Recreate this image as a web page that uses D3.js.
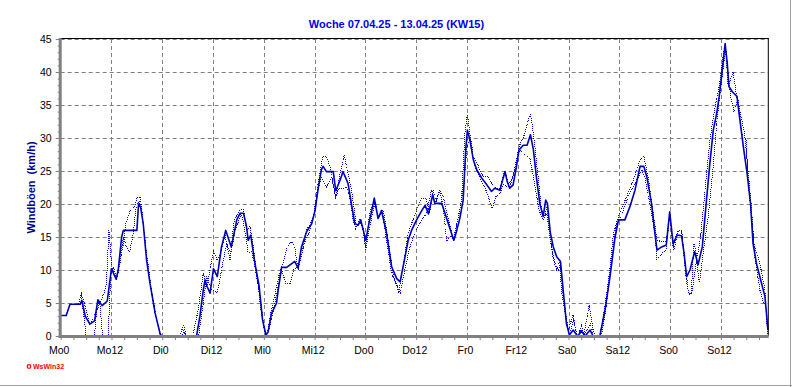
<!DOCTYPE html>
<meta charset="utf-8">
<head>
<script src="https://d3js.org/d3.v7.min.js"></script>
<style>
  body { margin: 0; background: #ffffff; }
  svg { display: block; font-family: "Liberation Sans", Arial, sans-serif; }
</style>
</head>
<body>
<svg id="chart" width="792" height="387"></svg>
<script>
// tick labels
var xLabels = ["Mo0","Mo12","Di0","Di12","Mi0","Mi12","Do0","Do12","Fr0","Fr12","Sa0","Sa12","So0","So12"];
var xTickHours = [0,12,24,36,48,60,72,84,96,108,120,132,144,156];
var yTicks = [0,5,10,15,20,25,30,35,40,45];

// wind gusts, [hour since Mo0, km/h] - solid series
var gustMain = [[0,3.1],[1.3,3.1],[2.2,4.8],[4.6,4.8],[5,5.4],[5.8,3],[6.9,1.8],[8,2.3],[8.8,5.5],[9.8,4.6],[11,5.3],[12,10.2],[13.1,8.6],[13.6,10],[14.4,15],[14.8,16],[18,16],[18.4,20],[18.9,19.5],[19.5,17],[20.3,11.5],[21.1,8],[22.3,3.5],[23.5,0.3],[23.9,0],
  [32.1,0],[32.9,3],[33.7,7],[34.1,8.5],[34.6,7.5],[35.3,6.5],[36.1,10.2],[37,9],[38,13.5],[39,16],[40.3,13.5],[40.8,15],[41.6,17.6],[42.4,18.6],[43.2,18.6],[43.9,16.6],[44.3,14.5],[44.9,15.3],[45.9,11],[46.9,7.5],[47.7,2.4],[48.5,0.15],[49,0.6],[49.8,3.4],[51,5],[51.4,7],[52.2,10.4],[53.4,10.4],[55.3,11.3],[56.1,10.3],[56.9,13.5],[58.1,15.8],[59.3,17],[60.1,19],[60.9,22.6],[61.6,25.2],[62,25.7],[62.8,24.9],[64.4,24.9],[65,22],[66,23.6],[66.7,24.9],[67.9,23.1],[68.7,20],[69.5,17],[70.3,16.8],[70.9,17.6],[71.5,16],[72.1,14.5],[72.7,16.6],[73.5,19],[74.1,20.9],[75,17.8],[75.8,19],[77,15.6],[78.2,10.5],[79.4,8.7],[80.2,8.2],[81.3,11.8],[82.1,14.5],[82.9,16],[84.1,17.6],[85.3,19],[86.1,19.8],[86.9,18.5],[87.9,21.4],[88.4,20.1],[90,20.1],[90.8,18.6],[92,16.2],[92.9,14.5],[93.5,15.8],[94.3,17.8],[95.1,20.6],[95.7,28.2],[96.1,31.2],[96.7,29.7],[97.5,26.7],[98.3,25.2],[99.5,23.9],[100.7,22.9],[101.8,21.9],[102.6,22.4],[103.8,22.1],[104.4,23.6],[105,24.9],[105.5,23.4],[106.1,22.4],[106.9,22.9],[107.7,25.7],[108.3,28.2],[109.3,28.9],[110.2,28.9],[111,30.5],[111.7,28.2],[112.4,24.1],[113.2,20.1],[114,18.1],[114.6,20.6],[115,20.1],[115.7,15.6],[116.4,13.5],[117.2,12],[118.1,11.3],[118.8,6.5],[119.5,1.9],[120.2,0.15],[121.1,0.9],[122.1,0],[123.1,0.7],[123.9,0],[125.1,0.9],[125.8,0],[127.4,0],[128.6,3.9],[129.8,9],[131,15],[131.8,17.6],[133.3,17.6],[134.5,19.6],[135.7,22.1],[136.9,25.7],[137.8,25.7],[138.5,24.1],[139.6,20.1],[140.4,15.6],[140.9,13],[142,13.5],[143.1,13.8],[143.9,18.8],[144.7,14],[145.7,15.3],[146.7,15.2],[147.3,12.5],[147.9,9],[148.7,10],[149.8,12.8],[150.6,10.8],[151.6,13.5],[152.6,20.6],[153.4,26.2],[154.2,31.2],[155,33.7],[155.6,36.3],[156.5,41.3],[157,44.3],[157.5,41.3],[157.9,37.8],[158.7,37],[159.8,36.3],[160.5,32.7],[161.3,28.7],[162.2,24.6],[163,20.1],[163.6,14],[164.4,11],[165.6,8],[166.4,6],[166.8,3.2],[167.1,0.9]];

// dotted series 1
var gustDot1 = [[0,3.1],[1.3,3.1],[2.2,4.8],[4.2,4.8],[4.9,6.4],[6,4],[6.9,1.7],[8.9,4.4],[10.2,6.5],[10.8,8],[11.4,16],[12,11],[12.5,9.5],[13.2,8.5],[14,11],[14.8,14],[15.4,17],[16.4,19],[17.4,19.5],[18,21],[18.8,21],[19.2,19],[20,14],[21,8.5],[22.3,3.5],[23.5,0.3],[24,0],[28.2,0],[29,1.7],[29.7,0],[31.2,0],[32.5,4],[33.7,9.5],[34.5,7.5],[36.1,12.8],[37,11.5],[38,13],[38.8,15.3],[40,11.5],[41,17.6],[42.4,19.1],[43.2,19.1],[43.9,16],[44.7,16.6],[45.5,13.5],[46.5,8.5],[47.4,3.5],[48.2,0.5],[48.8,0.3],[49.5,3],[50.5,6],[51.5,9],[52.5,11],[53.5,13.5],[54.5,14.3],[55.3,13.5],[56.1,10],[57.5,14],[58.9,16],[60,19],[60.8,23],[61.9,27.2],[62.8,27.2],[63.6,25.7],[65,21],[66,24.6],[67,27.4],[67.7,25.2],[68.7,22.1],[69.4,19],[69.9,16.6],[70.7,17.3],[71.5,16],[72.1,13],[73,18.6],[74.1,20.6],[75,17.8],[76,18.8],[77,14.5],[78.2,9.5],[79.4,7.7],[79.8,6.5],[80.9,10.5],[82.1,15.6],[82.9,17],[84.4,19.6],[85.3,20.9],[86.3,20.9],[87.2,18.6],[88,22.1],[88.8,20.6],[89.6,22.1],[90.5,19],[91.2,14.3],[92,15.3],[92.8,14.5],[93.5,16.6],[94.7,20.6],[95.5,30.7],[96.1,33.7],[96.7,30.7],[97.5,27.4],[98.7,25.7],[99.8,24.1],[101,24.1],[101.8,23.1],[102.8,22.4],[103.8,22.4],[105,25.2],[105.8,22.9],[106.8,23.9],[107.7,26.7],[108.3,28.7],[109.7,30.7],[110.5,32.7],[111,33.7],[111.7,30.7],[112.8,24.1],[113.6,19.1],[114.4,18.1],[114.8,19.6],[115.6,15],[116.4,11.5],[117.2,10],[118,11.5],[118.3,7],[119.1,3.9],[119.9,0.9],[121.1,3.2],[121.7,0.9],[122.2,0],[123.1,1.7],[123.6,0],[124.9,4.7],[125.8,0.9],[126.2,0],[127.4,0],[128.6,4.4],[129.8,10.5],[130.6,15.6],[131.8,18.1],[133.7,21.1],[135.3,23.6],[136.9,26.7],[137.8,27.2],[138.8,24.1],[140,18.6],[140.9,14.5],[142,14.3],[143.1,14.3],[143.9,18.6],[144.7,13.5],[145.7,15.8],[146.7,16],[147.5,11.5],[148.3,6.5],[149,6.5],[149.6,14],[150.4,12],[151.2,15],[152.4,23.1],[153.4,29.7],[154.6,34.7],[155.6,37.8],[156.7,43.3],[157.1,44.3],[157.7,37.8],[158.9,40],[159.5,37.3],[160,35.3],[160.9,30.7],[161.9,30.2],[162.4,23.6],[163.2,18.1],[163.8,14],[165.2,11],[166.4,7],[166.8,2.4],[167.1,0]];

// dotted series 2
var gustDot2 = [[0,3.1],[1.3,3.1],[2.2,4.8],[4.2,4.8],[4.9,6],[5.5,3],[6,0],[8,0],[8.7,5.5],[9.3,4.5],[9.9,0],[11.2,0],[11.8,9],[12.5,10.5],[13.2,8.5],[14,12],[14.8,15],[15.5,13.5],[16.3,12.8],[17,15],[17.8,19.3],[18.5,20.5],[19.2,19],[19.8,15],[20.6,11],[21.4,7],[22.5,3],[23.6,0],[28.6,0],[29.1,0.8],[29.6,0],[32.6,0],[33.7,5],[34.5,9],[35.7,7],[37,6.5],[38,10],[39.2,14],[40.2,12.5],[41.2,16],[42.7,18.6],[43.8,15],[44.3,12.5],[45.1,13],[46,10],[47,6.5],[47.9,2],[48.5,0],[49.2,1],[50,3],[51.5,8],[52.2,10],[53.2,8],[54.2,8],[55,10],[56.1,10.5],[57.2,13],[58.1,16],[59.7,18],[60.4,21],[61.6,24.1],[62.8,22.6],[64,24.1],[65,21],[65.8,22.4],[66.8,22.4],[67.6,22.6],[68.3,21],[69.1,17.6],[69.7,16.3],[70.7,17.8],[71.5,16.3],[72.1,13.3],[73.5,18.1],[74.3,20.4],[75,17.8],[76.2,19.1],[77.4,14.5],[78.6,9],[80.2,6.5],[81.3,10],[82.5,13.5],[83.7,15.6],[85.3,17.6],[86.5,18.6],[87.6,22.1],[88.4,20.1],[89.6,22.1],[90.4,21.1],[91.6,17.6],[92.8,14.5],[93.2,15.8],[94.3,19.1],[95.3,23.1],[96,28.7],[96.7,29.7],[97.9,25.7],[98.9,24.1],[100.2,22.6],[102,19.3],[102.8,21.1],[103.8,21.6],[104.6,23.1],[105.4,22.6],[106.1,22.6],[107.3,25.2],[108.5,28.2],[109.7,27.4],[110.9,26.9],[112.1,22.6],[113,19.1],[114,17.6],[114.8,18.6],[116,13.5],[116.8,11],[117.6,10],[118.1,11],[118.7,6.5],[119.9,0.9],[120.5,0.9],[121.1,2.4],[122.1,0],[122.9,0.9],[123.7,0],[125.1,1.9],[125.8,0],[127.8,0],[129,4.9],[130.2,11.5],[131.3,17],[132.5,18.3],[134.1,21.1],[135.3,22.6],[136.5,24.1],[137.3,25.2],[138,24.1],[139.2,20.1],[140.4,15.6],[140.9,11.5],[142,12.5],[143,13],[143.9,18.3],[144.9,13],[145.9,16],[146.7,15.8],[147.2,12.5],[147.9,8],[148.5,6.2],[149.3,7],[150.2,11.5],[150.9,8],[151.8,12.5],[153,18.1],[154.2,25.7],[155,32.2],[155.7,36.3],[156.8,41.8],[157.2,43.3],[157.7,39.8],[158.3,36.3],[159.1,34],[160,36],[160.6,33.7],[161.6,30.7],[162.4,25.2],[163.2,19.6],[164,12],[165.2,7],[166,5],[166.6,4.7],[167.1,0]];

var svg = d3.select("#chart");
var plotLeft = 60.7, plotRight = 768.3, plotTop = 39, plotBottom = 336;

var x = d3.scaleLinear().domain([0, 167.2]).range([plotLeft, plotRight]);
var y = d3.scaleLinear().domain([0, 45]).range([plotBottom, plotTop]);

// outer frame shadow lines
svg.append("line").attr("x1", 790.5).attr("x2", 790.5).attr("y1", 0).attr("y2", 387)
  .attr("stroke", "#a0a0a0").attr("stroke-width", 1);
svg.append("line").attr("x1", 0).attr("x2", 792).attr("y1", 385.5).attr("y2", 385.5)
  .attr("stroke", "#a0a0a0").attr("stroke-width", 1);

// grid
var grid = svg.append("g").attr("stroke", "#808080").attr("stroke-dasharray", "4,3").attr("stroke-width", 1);
grid.selectAll(".hg").data(yTicks.slice(1)).enter().append("line")
  .attr("x1", plotLeft).attr("x2", plotRight)
  .attr("y1", function(d) { return Math.round(y(d)) + 0.5; })
  .attr("y2", function(d) { return Math.round(y(d)) + 0.5; });
grid.selectAll(".vg").data(xTickHours.slice(1)).enter().append("line")
  .attr("y1", plotTop).attr("y2", plotBottom + 4)
  .attr("x1", function(d) { return Math.round(x(d)) + 0.5; })
  .attr("x2", function(d) { return Math.round(x(d)) + 0.5; });

// series
var line = d3.line().x(function(d) { return x(d[0]); }).y(function(d) { return y(d[1]); });
[gustDot1, gustDot2].forEach(function(s) {
  svg.append("path").datum(s).attr("d", line)
    .attr("fill", "none").attr("stroke", "#0000ff").attr("stroke-width", 1)
    .attr("stroke-dasharray", "1,1").attr("shape-rendering", "crispEdges");
});
svg.append("path").datum(gustMain).attr("d", line)
  .attr("fill", "none").attr("stroke", "#0000b8").attr("stroke-width", 1.6)
  .attr("stroke-linejoin", "round");

// frame top/right
svg.append("line").attr("x1", plotLeft).attr("x2", plotRight + 0.5).attr("y1", plotTop - 0.5).attr("y2", plotTop - 0.5)
  .attr("stroke", "#000").attr("stroke-width", 1);
svg.append("line").attr("x1", plotRight).attr("x2", plotRight).attr("y1", plotTop - 0.5).attr("y2", plotBottom)
  .attr("stroke", "#000").attr("stroke-width", 1);

// minor ticks
var minorY = d3.axisLeft(y).tickValues(d3.range(0, 46, 1)).tickSize(2).tickFormat("");
svg.append("g").attr("transform", "translate(" + (plotLeft - 1) + ",0)").call(minorY)
  .call(function(g) { g.select(".domain").remove(); g.selectAll("line").attr("stroke", "#808080"); });
var minorX = d3.axisBottom(x).tickValues(d3.range(0, 167, 3)).tickSize(3).tickFormat("");
svg.append("g").attr("transform", "translate(0," + (plotBottom + 1) + ")").call(minorX)
  .call(function(g) { g.select(".domain").remove(); g.selectAll("line").attr("stroke", "#808080"); });

// axes (thick gray)
svg.append("line").attr("x1", plotLeft - 0.5).attr("x2", plotLeft - 0.5).attr("y1", plotTop - 1).attr("y2", plotBottom + 2)
  .attr("stroke", "#808080").attr("stroke-width", 3);
svg.append("line").attr("x1", plotLeft - 2).attr("x2", plotRight + 0.5).attr("y1", plotBottom + 0.5).attr("y2", plotBottom + 0.5)
  .attr("stroke", "#808080").attr("stroke-width", 3);

// y axis labels
var yAxis = d3.axisLeft(y).tickValues(yTicks).tickSize(4).tickPadding(4);
svg.append("g").attr("transform", "translate(" + (plotLeft - 1) + ",0)").call(yAxis)
  .call(function(g) {
    g.select(".domain").remove();
    g.selectAll("line").attr("stroke", "#808080");
    g.selectAll("text").attr("fill", "#000").attr("font-size", "10.5px")
      .attr("font-family", "Liberation Sans, Arial, sans-serif");
  });

// x axis labels
var xAxis = d3.axisBottom(x).tickValues(xTickHours).tickSize(0).tickPadding(11)
  .tickFormat(function(d, i) { return xLabels[i]; });
svg.append("g").attr("transform", "translate(-2," + plotBottom + ")").call(xAxis)
  .call(function(g) {
    g.select(".domain").remove();
    g.selectAll("text").attr("fill", "#000").attr("font-size", "10.5px")
      .attr("font-family", "Liberation Sans, Arial, sans-serif");
  });

// title
svg.append("text").attr("x", 396.5).attr("y", 27.5).attr("text-anchor", "middle")
  .attr("font-size", "11px").attr("font-weight", "bold").attr("fill", "#0000ee")
  .text("Woche 07.04.25 - 13.04.25 (KW15)");

// y title
svg.append("text").attr("transform", "translate(35,187.5) rotate(-90)")
  .attr("text-anchor", "middle").attr("font-size", "11px").attr("font-weight", "bold")
  .attr("fill", "#000090").style("white-space", "pre")
  .text("Windböen  (km/h)");

// logo
svg.append("circle").attr("cx", 29).attr("cy", 366.5).attr("r", 1.8)
  .attr("fill", "none").attr("stroke", "#ff0000").attr("stroke-width", 1.2);
svg.append("text").attr("x", 33).attr("y", 369).attr("font-size", "7px").attr("font-weight", "bold")
  .attr("fill", "#ff0000").text("WsWin32");
</script>
</body>
